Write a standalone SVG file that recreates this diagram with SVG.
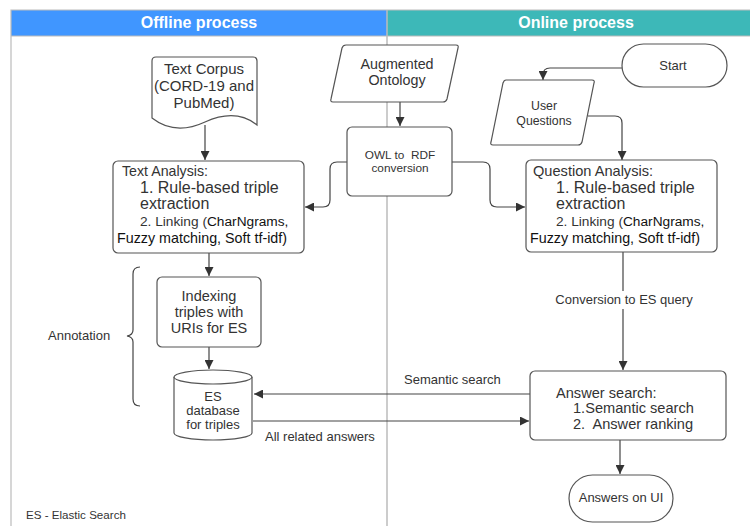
<svg xmlns="http://www.w3.org/2000/svg" width="750" height="526" viewBox="0 0 750 526">
<defs>
<marker id="ah" viewBox="0 0 10 10" refX="10" refY="5" markerWidth="9" markerHeight="9" markerUnits="userSpaceOnUse" orient="auto">
<path d="M0,0 L10,5 L0,10 z" fill="#333"/>
</marker>
<style>
.t{font-family:"Liberation Sans",Arial,sans-serif;fill:#333}
.b{fill:#fff;stroke:#555;stroke-width:1.2}
.c{fill:none;stroke:#444;stroke-width:1.2;marker-end:url(#ah)}
.l{fill:none;stroke:#444;stroke-width:1.2}
.h{font-family:"Liberation Sans",Arial,sans-serif;font-weight:bold;font-size:16px;fill:#fff}
.k{fill:#111}
</style>
</defs>
<rect x="0" y="0" width="750" height="526" fill="#fff"/>
<g id="frame">
<rect x="11" y="10" width="376" height="26" fill="#4096ff"/>
<rect x="387" y="10" width="363" height="26" fill="#3db8b8"/>
<text class="h" x="199" y="28" text-anchor="middle">Offline process</text>
<text class="h" x="576" y="28" text-anchor="middle">Online process</text>
<path d="M11,526 V10 H750" fill="none" stroke="#bbb" stroke-width="1.2"/>
<line x1="11" y1="36" x2="750" y2="36" stroke="#bbb" stroke-width="1"/>
<line x1="387" y1="10" x2="387" y2="526" stroke="#bbb" stroke-width="1.5"/>
</g>
<g id="connectors">
<line class="c" x1="205" y1="125" x2="205" y2="160"/>
<line class="c" x1="400" y1="102" x2="400" y2="126"/>
<path class="c" d="M347,162 H337 Q330,162 330,169 V200 Q330,207 323,207 H305"/>
<path class="c" d="M452,162 H483 Q490,162 490,169 V200 Q490,207 497,207 H525"/>
<path class="c" d="M622,68 H550 Q543,68 543,75 V80"/>
<path class="c" d="M588,116 H615 Q622,116 622,123 V160"/>
<line class="l" x1="623" y1="252" x2="623" y2="291"/>
<line class="c" x1="623" y1="309" x2="623" y2="370"/>
<line class="c" x1="209" y1="253" x2="209" y2="276"/>
<line class="c" x1="209" y1="347" x2="209" y2="369"/>
<line class="c" x1="530" y1="394" x2="254" y2="394"/>
<line class="c" x1="253" y1="421" x2="529" y2="421"/>
<line class="c" x1="620" y1="440" x2="620" y2="474"/>
<path class="l" d="M140,267 Q133,267 133,274 V330 Q133,335 127,336 Q133,337 133,342 V399 Q133,406 140,406"/>
</g>
<g id="labels">
<text class="t" x="624" y="304" font-size="13" text-anchor="middle">Conversion to ES query</text>
<text class="t" x="404" y="384" font-size="13">Semantic search</text>
<text class="t" x="265" y="441" font-size="13">All related answers</text>
<text class="t" x="48" y="340" font-size="13">Annotation</text>
<text class="t" x="26" y="519" font-size="11.6">ES - Elastic Search</text>
</g>
<g id="text-corpus">
<path class="b" d="M152,61 Q152,57 156,57 H253 Q257,57 257,61 V125 Q236,108 205,122 Q175,136 152,118 Z"/>
<text class="t" font-size="15" text-anchor="middle"><tspan x="204" y="74">Text Corpus</tspan><tspan x="204" y="91">(CORD-19 and</tspan><tspan x="204" y="108">PubMed)</tspan></text>
</g>
<g id="augmented-ontology">
<path class="b" d="M346,45 H456 Q459,45 458,48 L447,99 Q446,102 443,102 H333 Q330,102 331,99 L342,48 Q343,45 346,45 Z"/>
<text class="t" font-size="14.3" text-anchor="middle"><tspan x="397" y="69">Augmented</tspan><tspan x="397" y="85">Ontology</tspan></text>
</g>
<g id="owl-rdf">
<rect class="b" x="347" y="127" width="105" height="69" rx="5"/>
<text class="t" font-size="11.8" text-anchor="middle" xml:space="preserve"><tspan x="400" y="159">OWL to  RDF</tspan><tspan x="400" y="172">conversion</tspan></text>
</g>
<g id="text-analysis">
<rect class="b" x="113" y="161" width="191" height="92" rx="5"/>
<text class="t" font-size="14.2" x="122" y="176">Text Analysis:</text>
<text class="t" font-size="16" x="140" y="193">1. Rule-based triple</text>
<text class="t" font-size="16" x="140" y="209">extraction</text>
<text class="t" font-size="13.7" x="140" y="226">2. Linking (<tspan class="k">CharNgrams,</tspan></text>
<text class="t k" font-size="14.3" x="117" y="243">Fuzzy matching, Soft tf-idf)</text>
</g>
<g id="start">
<rect class="b" x="622" y="44" width="105" height="43" rx="21.5"/>
<text class="t" font-size="13" x="673" y="70" text-anchor="middle">Start</text>
</g>
<g id="user-questions">
<path class="b" d="M506,80 H592 Q595,80 594,83 L582,142 Q581,145 578,145 H493 Q490,145 491,142 L503,83 Q504,80 506,80 Z"/>
<text class="t" font-size="12.3" text-anchor="middle"><tspan x="544" y="110">User</tspan><tspan x="544" y="125">Questions</tspan></text>
</g>
<g id="question-analysis">
<rect class="b" x="526" y="160" width="191" height="92" rx="5"/>
<text class="t" font-size="14.6" x="533" y="176">Question Analysis:</text>
<text class="t" font-size="16" x="556" y="193">1. Rule-based triple</text>
<text class="t" font-size="16" x="556" y="209">extraction</text>
<text class="t" font-size="13.7" x="556" y="226">2. Linking (<tspan class="k">CharNgrams,</tspan></text>
<text class="t k" font-size="14.3" x="530" y="243">Fuzzy matching, Soft tf-idf)</text>
</g>
<g id="indexing">
<rect class="b" x="157" y="277" width="104" height="70" rx="5"/>
<text class="t" font-size="14.5" text-anchor="middle"><tspan x="209" y="301">Indexing</tspan><tspan x="209" y="317">triples with</tspan><tspan x="209" y="333">URIs for ES</tspan></text>
</g>
<g id="es-database">
<path class="b" d="M174,377 V433 A39,7 0 0 0 252,433 V377"/>
<ellipse class="b" cx="213" cy="377" rx="39" ry="7"/>
<text class="t" font-size="13" text-anchor="middle"><tspan x="213" y="401">ES</tspan><tspan x="213" y="415">database</tspan><tspan x="213" y="429">for triples</tspan></text>
</g>
<g id="answer-search">
<rect class="b" x="530" y="371" width="196" height="69" rx="5"/>
<text class="t" font-size="14.6" x="556" y="398">Answer search:</text>
<text class="t" font-size="14.6" x="573" y="413">1.Semantic search</text>
<text class="t" font-size="14.6" x="573" y="429" xml:space="preserve">2.  Answer ranking</text>
</g>
<g id="answers-ui">
<rect class="b" x="569" y="475" width="104" height="47" rx="23.5"/>
<text class="t" font-size="13" x="621" y="502" text-anchor="middle">Answers on UI</text>
</g>
</svg>
